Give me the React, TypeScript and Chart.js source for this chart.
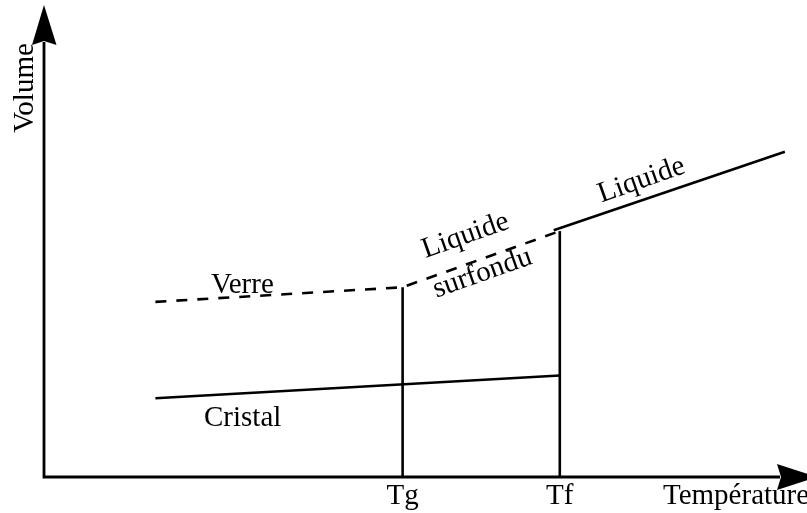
import React, { useEffect, useRef } from "react";
import { Chart, registerables } from "chart.js";

Chart.register(...registerables);

// Data (arbitrary units: temperature 0..100, volume 0..100)
const Tg = 47.0;
const Tf = 67.6;
const cristalT = [14.6, Tf];
const cristalV = [16.7, 21.5];
const verreT = [14.6, Tg, Tf];
const verreV = [37.1, 40.2, 52.1];
const liquideT = [66.8, 97.1];
const liquideV = [52.3, 68.9];
const tgLineV = [0, 40.2];
const tfLineV = [0, 52.1];
const tickValues = [Tg, Tf];
const tickLabels = ["Tg", "Tf"];
const xTitle = "Température";
const yTitle = "Volume";
const labelVerre = "Verre";
const labelCristal = "Cristal";
const labelLiquide = "Liquide";
const labelSurfondu = "surfondu";

const pts = (xs: number[], ys: number[]) => xs.map((x, i) => ({ x, y: ys[i] }));

const FONT = '29px "Liberation Serif", "Times New Roman", serif';

const axesPlugin = {
  id: "axesPlugin",
  afterDraw(chart: any) {
    const ctx = chart.ctx as CanvasRenderingContext2D;
    const xs = chart.scales.x;
    const ys = chart.scales.y;
    const ox = xs.getPixelForValue(0);
    const oy = ys.getPixelForValue(0);
    ctx.save();
    ctx.strokeStyle = "#000";
    ctx.fillStyle = "#000";
    ctx.lineWidth = 2.8;
    // axes lines
    ctx.beginPath();
    ctx.moveTo(ox, 42);
    ctx.lineTo(ox, oy);
    ctx.lineTo(780, oy);
    ctx.stroke();
    // y arrow
    ctx.beginPath();
    ctx.moveTo(ox, 5);
    ctx.lineTo(ox + 12.5, 45);
    ctx.lineTo(ox, 41);
    ctx.lineTo(ox - 12, 45);
    ctx.closePath();
    ctx.fill();
    // x arrow
    ctx.beginPath();
    ctx.moveTo(817, oy);
    ctx.lineTo(777, oy - 13);
    ctx.lineTo(781, oy);
    ctx.lineTo(777, oy + 13);
    ctx.closePath();
    ctx.fill();

    ctx.font = FONT;
    ctx.textBaseline = "alphabetic";
    // tick labels
    ctx.textAlign = "center";
    tickValues.forEach((v, i) => {
      ctx.fillText(tickLabels[i], xs.getPixelForValue(v), 504);
    });
    ctx.textAlign = "left";
    ctx.fillText(xTitle, 663, 504);
    ctx.fillText(labelVerre, 211, 293);
    ctx.fillText(labelCristal, 204, 426);

    const rot = (t: string, x: number, y: number, deg: number) => {
      ctx.save();
      ctx.translate(x, y);
      ctx.rotate((deg * Math.PI) / 180);
      ctx.textAlign = "center";
      ctx.fillText(t, 0, 0);
      ctx.restore();
    };
    rot(yTitle, 33, 88, -90);
    rot(labelLiquide, 644, 187.5, -19.5);
    rot(labelLiquide, 468, 243, -19.5);
    rot(labelSurfondu, 485, 280.5, -19.5);
    ctx.restore();
  },
};

export default function App() {
  const ref = useRef<HTMLCanvasElement | null>(null);
  useEffect(() => {
    document.body.style.margin = "0";
    const base = {
      showLine: true,
      pointRadius: 0,
      borderColor: "#000",
      borderWidth: 2.6,
      fill: false,
      tension: 0,
    };
    const chart = new Chart(ref.current as HTMLCanvasElement, {
      type: "scatter",
      data: {
        datasets: [
          { ...base, label: "Cristal", data: pts(cristalT, cristalV) },
          { ...base, label: "Verre", data: pts(verreT, verreV), borderDash: [11, 10] },
          { ...base, label: "Liquide", data: pts(liquideT, liquideV) },
          { ...base, label: "Tg", data: pts([Tg, Tg], tgLineV) },
          { ...base, label: "Tf", data: pts([Tf, Tf], tfLineV) },
        ],
      },
      options: {
        animation: false,
        responsive: false,
        devicePixelRatio: 1,
        layout: { padding: { left: 44, top: 5, right: 0, bottom: 36 } },
        plugins: { legend: { display: false }, tooltip: { enabled: false } },
        scales: {
          x: { type: "linear", min: 0, max: 100, display: false },
          y: { type: "linear", min: 0, max: 100, display: false },
        },
      },
      plugins: [axesPlugin],
    } as any);
    return () => chart.destroy();
  }, []);
  return (
    <div style={{ position: "absolute", left: 0, top: 0, width: 807, height: 513, background: "#fff" }}>
      <canvas ref={ref} width={807} height={513} />
    </div>
  );
}
